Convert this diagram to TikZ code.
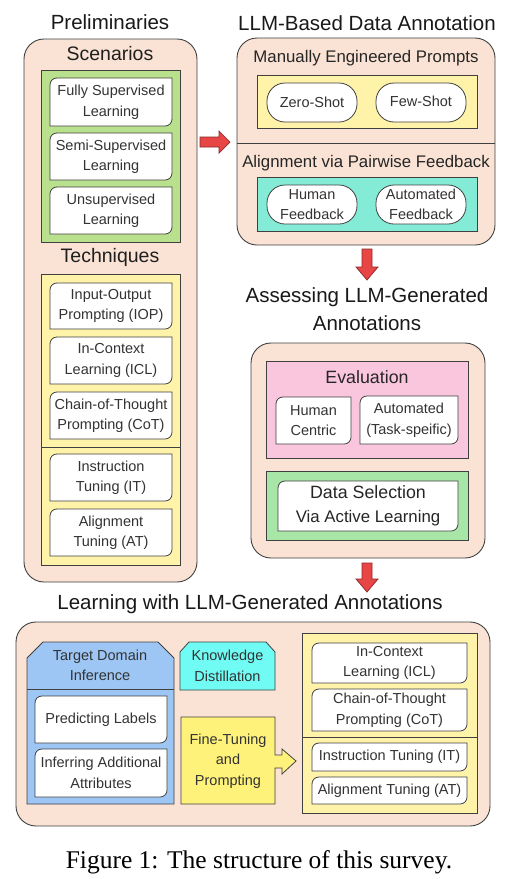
\documentclass[tikz,border=0pt]{standalone}
\usepackage{fontspec}
\setmainfont{Liberation Sans}
\newfontfamily\capfont{Liberation Serif}
\definecolor{peach}{HTML}{FAE3D5}
\definecolor{scgreen}{HTML}{B9E08C}
\definecolor{tyellow}{HTML}{FFF3AA}
\definecolor{teal2}{HTML}{84ECD6}
\definecolor{pink2}{HTML}{F9C6DE}
\definecolor{lgreen}{HTML}{A8E6A8}
\definecolor{blue2}{HTML}{9DC6F5}
\definecolor{cyan2}{HTML}{70FCF4}
\definecolor{ftyellow}{HTML}{FFF27A}
\definecolor{redarrow}{HTML}{E84545}
\definecolor{redline}{HTML}{8B2A2A}
\definecolor{strk}{HTML}{404040}
\definecolor{txt}{HTML}{333333}
\tikzset{
  outerbox/.style={draw=strk, line width=0.9pt, fill=peach, rounded corners=20pt},
  groupbox/.style={draw=strk, line width=0.8pt},
  wboxs/.style={draw=strk, line width=0.8pt, fill=white},
  btext/.style={font=\fontsize{14.5}{20.5}\selectfont, text=txt, align=center, inner sep=0pt},
  ttlstyle/.style={font=\fontsize{20.5}{28}\selectfont, text=black!90, align=center, inner sep=0pt},
  hdstyle/.style={font=\fontsize{19.5}{24}\selectfont, text=black!88, align=center, inner sep=0pt},
  substyle/.style={font=\fontsize{16.8}{21}\selectfont, text=black!85, align=center, inner sep=0pt},
  redarr/.style={draw=redline, line width=0.7pt, fill=redarrow},
}
\newcommand{\wbox}[6]{%
  \draw[wboxs] (#2,#5) -- (#2,#3+7) .. controls (#2,#3+3) and (#2+3,#3) .. (#2+7,#3) -- (#4,#3) -- (#4,#5-7) .. controls (#4,#5-3) and (#4-3,#5) .. (#4-7,#5) -- cycle;
  \node[btext] (#1) at ({(#2+#4)/2},{(#3+#5)/2}) {#6};}
\begin{document}
\begin{tikzpicture}[x=1pt,y=-1pt]
\useasboundingbox (0,0) rectangle (504,879);
\fill[white] (0,0) rectangle (504,879);

% ---------------- Preliminaries
\node[ttlstyle] (prelimT) at (110,22) {Preliminaries};
\draw[outerbox] (24,39) rectangle (197,582);
\node[hdstyle] (scen) at (110,54) {Scenarios};
\draw[groupbox, fill=scgreen] (41,70) rectangle (180,242);
\wbox{fsl}{50}{78}{172}{126}{Fully Supervised\\Learning}
\wbox{ssl}{50}{133}{172}{180}{Semi-Supervised\\Learning}
\wbox{usl}{50}{187}{172}{234}{Unsupervised\\Learning}
\node[hdstyle] (tech) at (110,257) {Techniques};
\draw[groupbox, fill=tyellow] (41,274) rectangle (180,565);
\draw[groupbox] (41,447) -- (180,447);
\wbox{iop}{50}{283}{172}{329}{Input-Output\\Prompting (IOP)}
\wbox{icl}{50}{337}{172}{384}{In-Context\\Learning (ICL)}
\wbox{cot}{50}{392}{172}{439}{Chain-of-Thought\\Prompting (CoT)}
\wbox{it}{50}{454}{172}{501}{Instruction\\Tuning (IT)}
\wbox{at}{50}{509}{172}{556}{Alignment\\Tuning (AT)}

% ---------------- arrow right
\draw[redarr] (200,137) -- (219,137) -- (219,131) -- (230,142) -- (219,153) -- (219,147) -- (200,147) -- cycle;

% ---------------- LLM-Based Data Annotation
\node[ttlstyle] (annT) at (367,23) {LLM-Based Data Annotation};
\draw[outerbox] (237,38) rectangle (495,245);
\draw[groupbox] (237,143) -- (495,143);
\node[substyle] (mep) at (366,58) {Manually Engineered Prompts};
\draw[groupbox, fill=tyellow] (257,75) rectangle (477,128);
\draw[wboxs, rounded corners=18pt] (267,83) rectangle (357,122);
\node[btext] (zs) at (312,102) {Zero-Shot};
\draw[wboxs, rounded corners=18pt] (376,83) rectangle (466,122);
\node[btext] (fs) at (421,101) {Few-Shot};
\node[substyle] (apf) at (366,163) {Alignment via Pairwise Feedback};
\draw[groupbox, fill=teal2] (257,177) rectangle (477,231);
\draw[wboxs, rounded corners=18pt] (267,185) rectangle (357,224);
\node[btext] (hf) at (312,204.5) {Human\\Feedback};
\draw[wboxs, rounded corners=18pt] (376,185) rectangle (466,224);
\node[btext] (af) at (421,204.5) {Automated\\Feedback};

% ---------------- arrow down 1
\draw[redarr] (362,249) -- (372,249) -- (372,267) -- (378,267) -- (367,280) -- (356,267) -- (362,267) -- cycle;

% ---------------- Assessing
\node[ttlstyle] (assT) at (367,309) {Assessing LLM-Generated\\Annotations};
\draw[outerbox] (251,343) rectangle (485,558);
\draw[groupbox, fill=pink2] (266,361) rectangle (468,458);
\node[font=\fontsize{17.8}{21}\selectfont, text=black!85, inner sep=0pt] (evl) at (367,377) {Evaluation};
\wbox{hc}{276}{397}{351}{444}{Human\\Centric}
\wbox{auto}{360}{396}{458}{444}{Automated\\(Task-speific)}
\draw[groupbox, fill=lgreen] (266,471) rectangle (468,540);
\draw[wboxs] (278,531) -- (278,481+7) .. controls (278,481+3) and (278+3,481) .. (278+7,481) -- (458,481) -- (458,531-7) .. controls (458,531-3) and (458-3,531) .. (458-7,531) -- cycle;
\node[align=center, text=black!85, inner sep=0pt, font=\fontsize{17.8}{24}\selectfont] (dsel) at (368,506) {Data Selection\\{\fontsize{16.8}{24}\selectfont Via Active Learning}};

% ---------------- arrow down 2
\draw[redarr] (362,563) -- (372,563) -- (372,579) -- (378,579) -- (367,592) -- (356,579) -- (362,579) -- cycle;

% ---------------- Learning with
\node[ttlstyle] (lrnT) at (250,604) {Learning with LLM-Generated Annotations};
\draw[outerbox] (16,622) rectangle (490,826);
\draw[groupbox, fill=blue2] (27,804) -- (27,658) -- (43,642) -- (158,642) -- (174,658) -- (174,804) -- cycle;
\draw[groupbox] (27,689) -- (174,689);
\node[btext] (tdi) at (100,665.5) {Target Domain\\Inference};
\wbox{pl}{35}{696}{167}{743}{Predicting Labels}
\wbox{iaa}{35}{749}{167}{797}{Inferring Additional\\Attributes}
\draw[groupbox, fill=cyan2] (180,690) -- (180,652) -- (189,642) -- (266,642) -- (275,652) -- (275,690) -- cycle;
\node[btext] (kd) at (227.5,666) {Knowledge\\Distillation};
\draw[groupbox, fill=ftyellow] (181,717) -- (275,717) -- (275,755) -- (282,755) -- (282,749) -- (296,761) -- (282,774) -- (282,768) -- (275,768) -- (275,804) -- (181,804) -- cycle;
\node[btext] (ftp) at (228,761) {Fine-Tuning\\and\\Prompting};
\draw[groupbox, fill=tyellow] (302,633) rectangle (477,813);
\draw[groupbox] (302,737) -- (477,737);
\wbox{icl2}{312}{643}{467}{683}{In-Context\\Learning (ICL)}
\wbox{cot2}{312}{689}{467}{731}{Chain-of-Thought\\Prompting (CoT)}
\wbox{it2}{312}{743}{467}{771}{Instruction Tuning (IT)}
\wbox{at2}{312}{777}{467}{804}{Alignment Tuning (AT)}

% ---------------- caption
\node[font=\capfont\fontsize{25.5}{28}\selectfont, inner sep=0pt] (cap) at (259,862) {Figure 1: The structure of this survey.};
\end{tikzpicture}
\end{document}
